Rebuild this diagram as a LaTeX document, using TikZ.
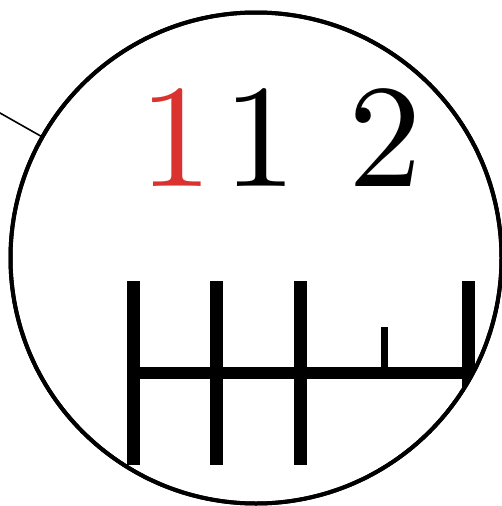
\documentclass[tikz,border=0pt]{standalone}
\usepackage{fontspec}
\definecolor{digitred}{RGB}{218,50,47}
\begin{document}
\begin{tikzpicture}[x=1pt,y=-1pt,
  digit/.style={inner sep=0pt,anchor=base,font=\fontsize{10}{12}\selectfont,scale=14.7},
  bigtick/.style={line width=13pt},
  smalltick/.style={line width=6.5pt},
  lensrim/.style={circle,draw,line width=4pt,minimum size=491pt,inner sep=0pt}]
\useasboundingbox (0,0) rectangle (502,506);
\node[lensrim] (lens) at (256,258) {};
\coordinate (ext) at (-30,96);
\draw[line width=1.6pt] (ext) -- (lens);
\begin{scope}
  \clip (256,258) circle[radius=245.5];
  \coordinate (t1t) at (133.5,281);
  \coordinate (t1b) at (133.5,465);
  \coordinate (t2t) at (216.5,281);
  \coordinate (t2b) at (216.5,465);
  \coordinate (t3t) at (300.5,281);
  \coordinate (t3b) at (300.5,465);
  \coordinate (t4t) at (468.5,281);
  \coordinate (t4b) at (468.5,465);
  \coordinate (hl) at (127,373);
  \coordinate (hr) at (480,373);
  \coordinate (st) at (384.5,327);
  \coordinate (sb) at (384.5,373);
  \draw[bigtick] (t1t) -- (t1b);
  \draw[bigtick] (t2t) -- (t2b);
  \draw[bigtick] (t3t) -- (t3b);
  \draw[bigtick] (t4t) -- (t4b);
  \draw[line width=12.7pt] (hl) -- (hr);
  \draw[smalltick] (st) -- (sb);
\end{scope}
\node[lensrim] (lensfront) at (256,258) {};
\node[digit,text=digitred] (d1) at (176,186) {1};
\node[digit] (d2) at (260,186) {1};
\node[digit] (d3) at (385,186) {2};
\end{tikzpicture}
\end{document}
